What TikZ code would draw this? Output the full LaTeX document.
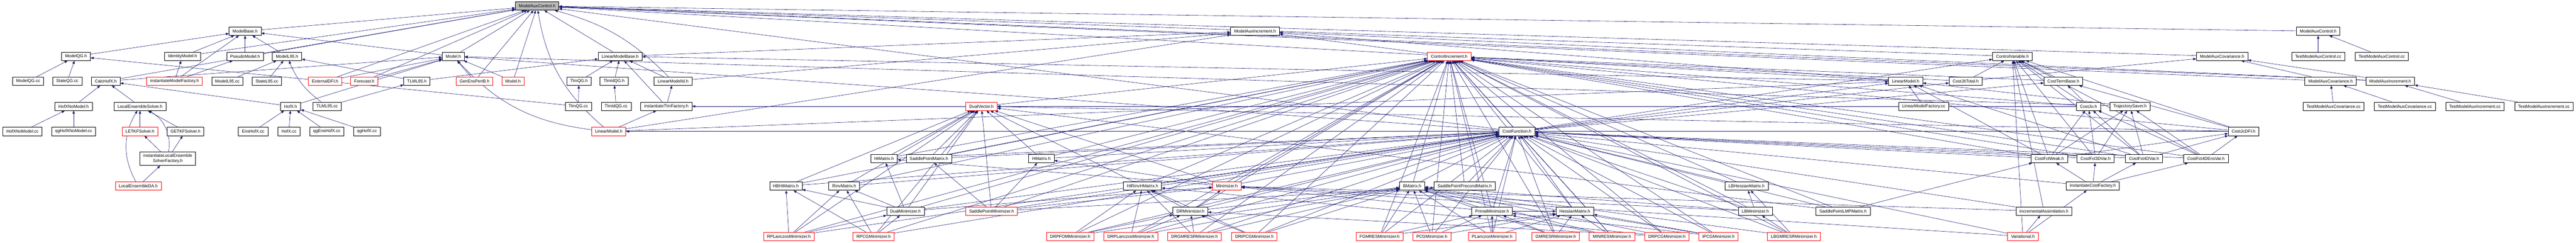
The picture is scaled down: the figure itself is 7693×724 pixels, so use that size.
\documentclass[tikz,border=0pt]{standalone}
\usepackage{fontspec}
\setmainfont{Liberation Sans}
\usetikzlibrary{arrows.meta}
\usetikzlibrary{backgrounds}

\definecolor{edgeblue}{HTML}{191970}
\definecolor{truncred}{HTML}{FF0000}

\tikzset{
  file/.style={rectangle, draw=black, line width=1.1pt, fill=white,
    inner xsep=10.5pt, inner ysep=0pt, minimum height=25pt,
    font=\fontsize{12.8}{15}\selectfont},
  trunc/.style={file, draw=truncred},
  rootfile/.style={file, fill=black!27},
  dep/.style={draw=edgeblue, line width=0.9pt, -{Triangle[length=9pt,width=7pt]}}
}

% src includes every file in the list
\newcommand{\incl}[3][]{\foreach \dst in {#3} {\draw[dep] (#2) to[#1] (\dst);}}

\begin{document}
\begin{tikzpicture}[x=1pt, y=-1pt]
  \useasboundingbox (0,0) rectangle (7693,724);

  % Define nodes
  \node[rootfile] (mac) at (1604,18) {ModelAuxControl.h};

  \node[file] (modelbase) at (732,93) {ModelBase.h};
  \node[file] (maiA) at (3748,93) {ModelAuxIncrement.h};
  \node[file] (macT) at (6923,93) {ModelAuxControl.h};

  \node[file] (modelqg) at (227,168) {ModelQG.h};
  \node[file] (identity) at (545,168) {IdentityModel.h};
  \node[file] (pseudo) at (732,168) {PseudoModel.h};
  \node[file] (modell95) at (857,168) {ModelL95.h};
  \node[file] (model) at (1354,168) {Model.h};
  \node[file] (lmbase) at (1852,168) {LinearModelBase.h};
  \node[trunc] (ctrlinc) at (4328,168) {ControlIncrement.h};
  \node[file] (ctrlvar) at (6010,168) {ControlVariable.h};
  \node[file] (macovA) at (6636,168) {ModelAuxCovariance.h};
  \node[file] (tmacA) at (6923,168) {TestModelAuxControl.cc};
  \node[file] (tmacB) at (7113,168) {TestModelAuxControl.cc};

  \node[file] (modelqgcc) at (84,242) {ModelQG.cc};
  \node[file] (stateqgcc) at (201,242) {StateQG.cc};
  \node[file] (calchofx) at (316,242) {CalcHofX.h};
  \node[trunc] (instmodel) at (521,242) {instantiateModelFactory.h};
  \node[file] (modell95cc) at (679,242) {ModelL95.cc};
  \node[file] (statel95cc) at (797,242) {StateL95.cc};
  \node[trunc] (extdfi) at (971,242) {ExternalDFI.h};
  \node[trunc] (forecast) at (1088,242) {Forecast.h};
  \node[file] (tlml95) at (1245,242) {TLML95.h};
  \node[trunc] (genens) at (1417,242) {GenEnsPertB.h};
  \node[trunc] (modelR) at (1532,242) {Model.h};
  \node[file] (tlmqg) at (1729,242) {TlmQG.h};
  \node[file] (tlmidqg) at (1834,242) {TlmIdQG.h};
  \node[file] (lmid) at (2010,242) {LinearModelId.h};
  \node[file] (linmodel) at (5691,242) {LinearModel.h};
  \node[file] (cjbtotal) at (5870,242) {CostJbTotal.h};
  \node[file] (ctermbase) at (6162,242) {CostTermBase.h};
  \node[file] (macovB) at (6960,242) {ModelAuxCovariance.h};
  \node[file] (maiB) at (7138,242) {ModelAuxIncrement.h};

  \node[file] (hofxnomodel) at (220,317) {HofXNoModel.h};
  \node[file] (lesolver) at (418,317) {LocalEnsembleSolver.h};
  \node[file] (hofx) at (868,317) {HofX.h};
  \node[file] (tlml95cc) at (977,317) {TLML95.cc};
  \node[file] (tlmqgcc) at (1727,317) {TlmQG.cc};
  \node[file] (tlmidqgcc) at (1840,317) {TlmIdQG.cc};
  \node[file] (insttlm) at (1990,317) {instantiateTlmFactory.h};
  \node[trunc] (dualvec) at (2931,317) {DualVector.h};
  \node[file] (lmfactory) at (5745,317) {LinearModelFactory.cc};
  \node[file] (cjo) at (6237,317) {CostJo.h};
  \node[file] (trajsaver) at (6361,317) {TrajectorySaver.h};
  \node[file] (tmacovA) at (6969,317) {TestModelAuxCovariance.cc};
  \node[file] (tmacovB) at (7182,317) {TestModelAuxCovariance.cc};
  \node[file] (tmaiA) at (7391,317) {TestModelAuxIncrement.cc};
  \node[file] (tmaiB) at (7597,317) {TestModelAuxIncrement.cc};

  \node[file] (hofxnmcc) at (67,392) {HofXNoModel.cc};
  \node[file] (qghofxnmcc) at (220,392) {qgHofXNoModel.cc};
  \node[trunc] (letkf) at (418,392) {LETKFSolver.h};
  \node[file] (getkf) at (554,392) {GETKFSolver.h};
  \node[file] (enshofxcc) at (756,392) {EnsHofX.cc};
  \node[file] (hofxcc) at (863,392) {HofX.cc};
  \node[file] (qgenshofxcc) at (976,392) {qgEnsHofX.cc};
  \node[file] (qghofxcc) at (1096,392) {qgHofX.cc};
  \node[trunc] (linmodelR) at (1818,392) {LinearModel.h};
  \node[file] (costfct) at (4530,392) {CostFunction.h};
  \node[file] (cjcdfi) at (6700,392) {CostJcDFI.h};

  \node[file, align=center, minimum height=41pt] (instlesf) at (501,473) {instantiateLocalEnsemble\\SolverFactory.h};
  \node[file] (htmat) at (2640,473) {HtMatrix.h};
  \node[file] (spmat) at (2774,473) {SaddlePointMatrix.h};
  \node[file] (hmat) at (3110,473) {HMatrix.h};
  \node[file] (cfweak) at (6120,473) {CostFctWeak.h};
  \node[file] (cf3dvar) at (6258,473) {CostFct3DVar.h};
  \node[file] (cf4dvar) at (6403,473) {CostFct4DVar.h};
  \node[file] (cf4densvar) at (6588,473) {CostFct4DEnsVar.h};

  \node[trunc] (leda) at (413,555) {LocalEnsembleDA.h};
  \node[file] (hbht) at (2347,555) {HBHtMatrix.h};
  \node[file] (rinv) at (2521,555) {RinvMatrix.h};
  \node[file] (htrinvh) at (3412,555) {HtRinvHMatrix.h};
  \node[trunc] (minimizer) at (3664,555) {Minimizer.h};
  \node[file] (bmat) at (4217,555) {BMatrix.h};
  \node[file] (spprecond) at (4374,555) {SaddlePointPrecondMatrix.h};
  \node[file] (lbhess) at (5216,555) {LBHessianMatrix.h};
  \node[file] (instcost) at (6250,555) {instantiateCostFactory.h};

  \node[file] (dualmin) at (2704,630) {DualMinimizer.h};
  \node[trunc] (spmin) at (2961,630) {SaddlePointMinimizer.h};
  \node[file] (drmin) at (3555,630) {DRMinimizer.h};
  \node[file] (primalmin) at (4456,630) {PrimalMinimizer.h};
  \node[file] (hessian) at (4703,630) {HessianMatrix.h};
  \node[file] (lbmin) at (5242,630) {LBMinimizer.h};
  \node[file] (splmp) at (5504,630) {SaddlePointLMPMatrix.h};
  \node[file] (incassim) at (6104,630) {IncrementalAssimilation.h};

  \node[trunc] (rplanczos) at (2356,705) {RPLanczosMinimizer.h};
  \node[trunc] (rpcg) at (2609,705) {RPCGMinimizer.h};
  \node[trunc] (drpfom) at (3196,705) {DRPFOMMinimizer.h};
  \node[trunc] (drplanczos) at (3377,705) {DRPLanczosMinimizer.h};
  \node[trunc] (drgmresr) at (3567,705) {DRGMRESRMinimizer.h};
  \node[trunc] (dripcg) at (3746,705) {DRIPCGMinimizer.h};
  \node[trunc] (fgmres) at (4120,705) {FGMRESMinimizer.h};
  \node[trunc] (pcg) at (4276,705) {PCGMinimizer.h};
  \node[trunc] (planczos) at (4456,705) {PLanczosMinimizer.h};
  \node[trunc] (gmresr) at (4646,705) {GMRESRMinimizer.h};
  \node[trunc] (minres) at (4814,705) {MINRESMinimizer.h};
  \node[trunc] (drpcg) at (4978,705) {DRPCGMinimizer.h};
  \node[trunc] (ipcg) at (5132,705) {IPCGMinimizer.h};
  \node[trunc] (lbgmresr) at (5357,705) {LBGMRESRMinimizer.h};
  \node[trunc] (variational) at (6041,705) {Variational.h};

  % Connect nodes
  \begin{scope}[on background layer]
  \incl{modelbase}{mac}
  \incl{model}{mac,modelbase}
  \incl{lmbase}{mac,maiA}
  \incl{identity}{mac,modelbase}
  \incl{pseudo}{mac,modelbase}
  \incl{modelqg}{modelbase}
  \incl{modell95}{modelbase}
  \incl{modelqgcc}{modelqg}
  \incl{stateqgcc}{modelqg}
  \incl{calchofx}{mac,model}
  \incl{instmodel}{identity,modelbase,pseudo}
  \incl{modell95cc}{modell95}
  \incl{statel95cc}{modell95}
  \incl{extdfi}{mac,model}
  \incl{forecast}{mac,model}
  \incl{tlml95}{modell95,lmbase}
  \incl{genens}{mac,model}
  \incl{modelR}{mac,model}
  \incl{tlmqg}{lmbase}
  \incl{tlmidqg}{lmbase}
  \incl{lmid}{lmbase,maiA}
  \incl[bend right=15]{lmid}{mac}
  \incl{hofxnomodel}{calchofx}
  \incl{lesolver}{calchofx}
  \incl{hofx}{calchofx,model}
  \incl[bend left=15]{tlml95cc}{modell95}
  \incl{tlml95cc}{tlml95}
  \incl{tlmqgcc}{tlmqg,modelqg}
  \incl{tlmidqgcc}{tlmidqg}
  \incl{insttlm}{lmbase,lmid}
  \incl{hofxnmcc}{hofxnomodel}
  \incl{qghofxnmcc}{hofxnomodel}
  \incl{letkf}{lesolver}
  \incl{getkf}{lesolver}
  \incl{enshofxcc}{hofx}
  \incl{hofxcc}{hofx}
  \incl{qgenshofxcc}{hofx}
  \incl{qghofxcc}{hofx}
  \incl{instlesf}{letkf,getkf}
  \incl[bend right=35]{instlesf}{lesolver}
  \incl{leda}{instlesf}
  \incl[bend left=30]{leda}{lesolver}
  \incl[bend left=20]{linmodelR}{mac,model}
  \incl{linmodelR}{insttlm,maiA,linmodel}
  \incl{linmodel}{mac,lmbase,maiA}
  \incl{lmfactory}{linmodel,insttlm}

  \incl{macT}{mac}
  \incl{tmacA}{macT}
  \incl{tmacB}{macT}
  \incl{macovA}{mac}
  \incl{macovB}{mac,macovA}
  \incl{maiB}{mac,maiA,macovA}
  \incl{tmacovA}{macovB}
  \incl{tmacovB}{macovB}
  \incl{tmaiA}{maiB}
  \incl{tmaiB}{maiB}

  \incl{ctrlinc}{maiA}
  \incl{ctrlvar}{mac}
  \incl{dualvec}{ctrlinc}
  \incl{costfct}{ctrlinc,ctrlvar,cjbtotal,ctermbase,mac,model,linmodel}
  \incl{cjbtotal}{ctrlvar,ctrlinc,macovA}
  \incl{ctermbase}{ctrlvar,ctrlinc}
  \incl{cjo}{ctermbase,ctrlvar,ctrlinc,dualvec}
  \incl{cjcdfi}{ctermbase,ctrlvar,ctrlinc,dualvec,linmodelR}
  \incl{trajsaver}{model,linmodel}

  \incl{htmat}{dualvec,ctrlinc,costfct}
  \incl{spmat}{dualvec,ctrlinc,costfct}
  \incl{hmat}{dualvec,ctrlinc,costfct}
  \incl{rinv}{dualvec,ctrlinc,costfct}
  \incl{hbht}{dualvec,ctrlinc,costfct}
  \incl{htrinvh}{dualvec,ctrlinc,costfct}
  \incl{minimizer}{dualvec,htmat,hmat,ctrlinc,costfct}
  \incl{bmat}{ctrlinc,costfct}
  \incl{spprecond}{ctrlinc,costfct}
  \incl{lbhess}{ctrlinc,costfct}
  \incl{dualmin}{minimizer,dualvec,hbht,rinv,htmat,ctrlinc,costfct}
  \incl{spmin}{minimizer,spmat,spprecond,dualvec,hmat,ctrlinc,costfct}
  \incl{drmin}{minimizer,htrinvh,bmat,ctrlinc,costfct}
  \incl{primalmin}{minimizer,bmat,hessian,ctrlinc,costfct}
  \incl{hessian}{ctrlinc,costfct}
  \incl{lbmin}{minimizer,lbhess,bmat,ctrlinc,costfct}
  \incl{splmp}{cfweak,dualvec,ctrlinc,costfct}
  \incl{incassim}{minimizer,ctrlvar,costfct}

  \incl{rplanczos}{dualmin,hbht,rinv,dualvec,ctrlinc,costfct}
  \incl{rpcg}{dualmin,hbht,rinv,dualvec,ctrlinc,costfct}
  \incl{drpfom}{drmin,htrinvh,bmat,ctrlinc,costfct}
  \incl{drplanczos}{drmin,htrinvh,bmat,ctrlinc,costfct}
  \incl{drgmresr}{drmin,htrinvh,bmat,ctrlinc,costfct}
  \incl{dripcg}{drmin,htrinvh,bmat,ctrlinc,costfct}
  \incl{drpcg}{drmin,htrinvh,bmat,ctrlinc,costfct}
  \incl{fgmres}{primalmin,hessian,bmat,ctrlinc,costfct}
  \incl{pcg}{primalmin,hessian,bmat,ctrlinc,costfct}
  \incl{planczos}{primalmin,hessian,bmat,ctrlinc,costfct}
  \incl{gmresr}{primalmin,hessian,bmat,ctrlinc,costfct}
  \incl{minres}{primalmin,hessian,bmat,ctrlinc,costfct}
  \incl{ipcg}{primalmin,hessian,bmat,ctrlinc,costfct}
  \incl{lbgmresr}{lbmin,lbhess,bmat,ctrlinc,costfct}

  \incl{cfweak}{costfct,cjo,cjcdfi,trajsaver,ctrlvar,ctrlinc,linmodel}
  \incl{cf3dvar}{costfct,cjo,trajsaver,ctrlvar,ctrlinc}
  \incl{cf4dvar}{costfct,cjo,cjcdfi,trajsaver,ctrlvar,ctrlinc,linmodel}
  \incl{cf4densvar}{costfct,cjo,cjcdfi,trajsaver,ctrlvar,ctrlinc}
  \incl{instcost}{cfweak,cf3dvar,cf4dvar,cf4densvar,costfct}
  \incl{variational}{incassim,instcost,costfct,ctrlvar,minimizer}
  \end{scope}

\end{tikzpicture}
\end{document}
